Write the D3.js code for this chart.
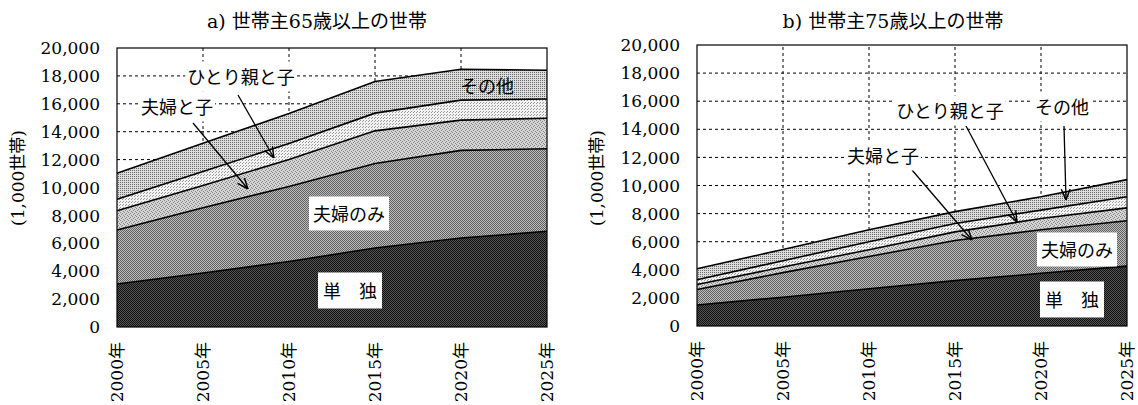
<!DOCTYPE html>
<html>
<head>
<meta charset="utf-8">
<script src="https://cdn.jsdelivr.net/npm/d3@7"></script>
<style>
  body { margin: 0; background: #fff; }
  svg text { font-family: "DejaVu Serif", "Noto Sans CJK JP", serif; fill: #000; }
  svg text.jp { font-family: "Noto Sans CJK JP", sans-serif; }
</style>
</head>
<body>
<svg id="chart" width="1138" height="405"></svg>
<script>
// years on the x axis
const years = [2000, 2005, 2010, 2015, 2020, 2025]
const yTicks = [0, 2000, 4000, 6000, 8000, 10000, 12000, 14000, 16000, 18000, 20000]
const keys = ['single', 'couple', 'coupleChild', 'parentChild', 'other']

// a) head of household 65+ (1,000 households)
const a_single      = [3080, 3870, 4700, 5660, 6380, 6860]
const a_couple      = [3870, 4680, 5370, 6060, 6280, 5920]
const a_coupleChild = [1390, 1600, 1930, 2340, 2170, 2180]
const a_parentChild = [ 810, 1000, 1150, 1270, 1430, 1380]
const a_other       = [1880, 2030, 2150, 2270, 2220, 2060]

// b) head of household 75+
const b_single      = [1500, 2050, 2650, 3230, 3750, 4260]
const b_couple      = [1100, 1750, 2300, 2850, 3100, 3230]
const b_coupleChild = [ 350,  400,  480,  620,  800,  920]
const b_parentChild = [ 340,  450,  570,  600,  600,  790]
const b_other       = [ 780,  800,  850,  840,  950, 1220]

const svg = d3.select('#chart')
const defs = svg.append('defs')

// halftone-ish fills
function dotPattern(id, size, bg, dots, color) {
  let p = defs.append('pattern').attr('id', id)
    .attr('patternUnits', 'userSpaceOnUse')
    .attr('width', size).attr('height', size)
  p.append('rect').attr('width', size).attr('height', size).attr('fill', bg)
  dots.forEach(d => {
    p.append('rect').attr('x', d[0]).attr('y', d[1]).attr('width', 1).attr('height', 1).attr('fill', color)
  })
}
dotPattern('pSingle', 2, '#555', [[0, 0], [1, 1]], '#111')
dotPattern('pCouple', 2, '#bdbdbd', [[0, 0], [1, 1]], '#606060')
dotPattern('pCoupleChild', 4, '#d4d4d4', [[0, 0], [2, 1], [1, 2], [3, 3]], '#858585')
dotPattern('pParentChild', 3, '#f2f2f2', [[0, 0], [2, 1]], '#9a9a9a')
dotPattern('pOther', 2, '#dcdcdc', [[0, 0]], '#6a6a6a')
const fills = {
  single: 'url(#pSingle)', couple: 'url(#pCouple)', coupleChild: 'url(#pCoupleChild)',
  parentChild: 'url(#pParentChild)', other: 'url(#pOther)'
}

let mk = defs.append('marker').attr('id', 'arrow')
  .attr('viewBox', '0 0 10 10').attr('refX', 10).attr('refY', 5)
  .attr('markerWidth', 11).attr('markerHeight', 11)
  .attr('markerUnits', 'userSpaceOnUse').attr('orient', 'auto')
mk.append('path').attr('d', 'M0,1 L10,5 L0,9').attr('fill', 'none').attr('stroke', '#000').attr('stroke-width', 1.3)

function drawPanel(opts) {
  let rows = years.map((yr, i) => {
    let o = { year: yr }
    keys.forEach(k => { o[k] = opts.series[k][i] })
    return o
  })
  let stacked = d3.stack().keys(keys)(rows)

  let x = d3.scaleLinear().domain([2000, 2025]).range([opts.left, opts.left + opts.width])
  let y = d3.scaleLinear().domain([0, 20000]).range([opts.bottom, opts.top])
  let g = svg.append('g')

  // dashed grid
  g.selectAll('.hg').data(yTicks.slice(1, -1)).enter().append('line')
    .attr('x1', x(2000)).attr('x2', x(2025))
    .attr('y1', d => y(d)).attr('y2', d => y(d))
    .attr('stroke', '#000').attr('stroke-width', 1).attr('stroke-dasharray', '3,3')
  g.selectAll('.vg').data(years.slice(1, -1)).enter().append('line')
    .attr('x1', d => x(d)).attr('x2', d => x(d))
    .attr('y1', y(0)).attr('y2', y(20000))
    .attr('stroke', '#000').attr('stroke-width', 1).attr('stroke-dasharray', '3,3')

  let area = d3.area().x(d => x(d.data.year)).y0(d => y(d[0])).y1(d => y(d[1]))
  let line = d3.line().x(d => x(d.data.year)).y(d => y(d[1]))
  g.selectAll('.area').data(stacked).enter().append('path')
    .attr('d', area).attr('fill', d => fills[d.key])
  g.selectAll('.edge').data(stacked).enter().append('path')
    .attr('d', line).attr('fill', 'none').attr('stroke', '#000').attr('stroke-width', 1.6)

  g.append('rect')
    .attr('x', x(2000)).attr('y', y(20000))
    .attr('width', x(2025) - x(2000)).attr('height', y(0) - y(20000))
    .attr('fill', 'none').attr('stroke', '#000').attr('stroke-width', 1.2)

  // y axis labels
  g.selectAll('.yl').data(yTicks).enter().append('text')
    .attr('x', x(2000) - 17).attr('y', d => y(d)).attr('dy', '0.36em')
    .attr('text-anchor', 'end').attr('font-size', 17)
    .text(d => d3.format(',')(d))

  // x axis labels, rotated
  g.selectAll('.xl').data(years).enter().append('text')
    .attr('transform', d => `translate(${x(d)},${opts.bottom + 15}) rotate(-90)`)
    .attr('dy', '0.36em').attr('text-anchor', 'end').attr('font-size', 17)
    .text(d => d + '年')

  g.append('text')
    .attr('transform', `translate(${opts.axisX},178) rotate(-90)`)
    .attr('dy', '0.36em').attr('text-anchor', 'middle').attr('font-size', 17)
    .text('(1,000世帯)')

  g.append('text')
    .attr('x', opts.titleX).attr('y', 28).attr('text-anchor', 'middle').attr('font-size', 19)
    .text(opts.title)

  // arrows
  opts.arrows.forEach(a => {
    g.append('line').attr('x1', a[0]).attr('y1', a[1]).attr('x2', a[2]).attr('y2', a[3])
      .attr('stroke', '#000').attr('stroke-width', 1.3).attr('marker-end', 'url(#arrow)')
  })

  // labels
  opts.labels.forEach(l => {
    let t = g.append('text').attr('class', 'jp')
      .attr('x', l.x).attr('y', l.y).attr('dy', '0.36em')
      .attr('text-anchor', 'middle').attr('font-size', 18).text(l.text)
    if (l.box) {
      let b = t.node().getBBox()
      let pad = l.pad || 2
      g.insert('rect', () => t.node())
        .attr('x', b.x - pad).attr('y', b.y - pad)
        .attr('width', b.width + pad * 2).attr('height', b.height + pad * 2)
        .attr('fill', '#fff')
    }
  })
}

drawPanel({
  left: 117, width: 430, top: 48, bottom: 327, axisX: 18, titleX: 317,
  title: 'a) 世帯主65歳以上の世帯',
  series: { single: a_single, couple: a_couple, coupleChild: a_coupleChild, parentChild: a_parentChild, other: a_other },
  arrows: [[238, 95, 274, 158], [193, 123, 248, 189]],
  labels: [
    { text: 'ひとり親と子', x: 241, y: 78, box: true },
    { text: '夫婦と子', x: 177, y: 108, box: true },
    { text: 'その他', x: 487, y: 87 },
    { text: '夫婦のみ', x: 349, y: 215, box: true, pad: 4 },
    { text: '単　独', x: 350, y: 292, box: true, pad: 5 }
  ]
})

drawPanel({
  left: 697, width: 430, top: 45, bottom: 326, axisX: 597, titleX: 893,
  title: 'b) 世帯主75歳以上の世帯',
  series: { single: b_single, couple: b_couple, coupleChild: b_coupleChild, parentChild: b_parentChild, other: b_other },
  arrows: [[1064, 126, 1066, 200], [966, 126, 1017, 222], [912, 170, 972, 240]],
  labels: [
    { text: 'ひとり親と子', x: 950, y: 112, box: true },
    { text: 'その他', x: 1062, y: 108, box: true },
    { text: '夫婦と子', x: 883, y: 157, box: true },
    { text: '夫婦のみ', x: 1077, y: 251, box: true, pad: 4 },
    { text: '単　独', x: 1072, y: 301, box: true, pad: 5 }
  ]
})
</script>
</body>
</html>
